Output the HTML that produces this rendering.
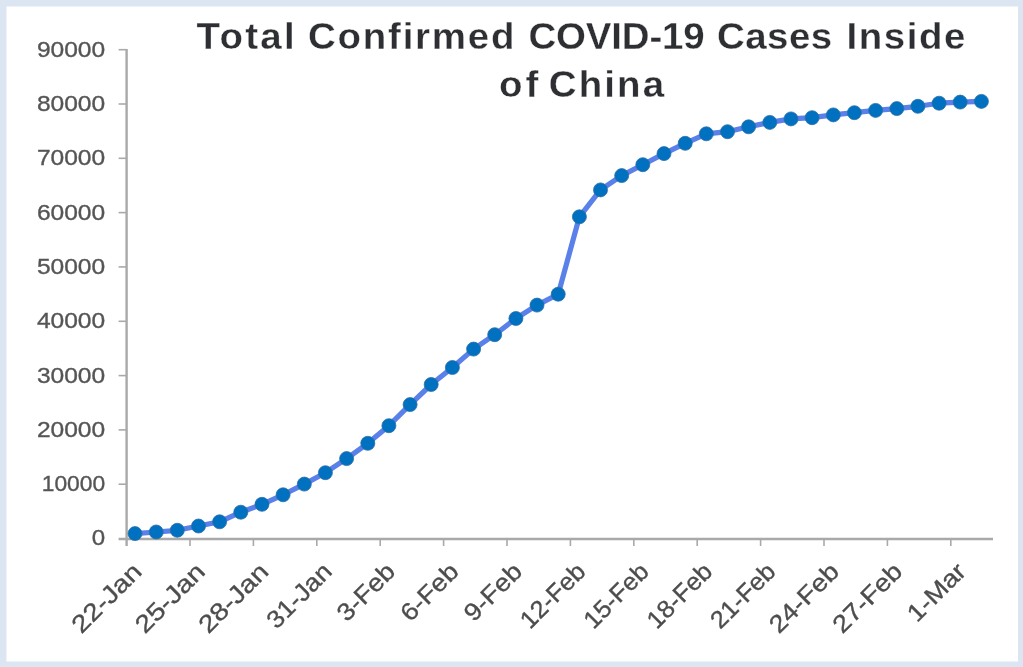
<!DOCTYPE html>
<html lang="en">
<head>
<meta charset="utf-8">
<title>Total Confirmed COVID-19 Cases Inside of China</title>
<style>
html,body{margin:0;padding:0;background:#dce6f2;}
body{width:1023px;height:667px;overflow:hidden;}
svg{display:block;filter:blur(0.7px);}
.t{font-family:"Liberation Sans",sans-serif;font-weight:bold;font-size:37px;fill:#2d2f32;stroke:#fff;stroke-width:0.3px;}
.yl{font-family:"Liberation Sans",sans-serif;font-size:22.5px;fill:#555;stroke:#555;stroke-width:0.35px;}
.xl{font-family:"Liberation Sans",sans-serif;font-size:24.5px;fill:#4d4d4d;stroke:#4d4d4d;stroke-width:0.35px;}
</style>
</head>
<body>
<svg width="1023" height="667" viewBox="0 0 1023 667">
<rect x="0" y="0" width="1023" height="667" fill="#dce6f2"/>
<rect x="6.5" y="6.5" width="1011.5" height="655" fill="#ffffff"/>
<text class="t" transform="translate(196.6,48.9) scale(1.04,1)" textLength="94.3" lengthAdjust="spacing">Total</text>
<text class="t" transform="translate(308.0,48.9) scale(1.04,1)" textLength="198.5" lengthAdjust="spacing">Confirmed</text>
<text class="t" transform="translate(528.5,48.9) scale(1.04,1)" textLength="169.4" lengthAdjust="spacing">COVID-19</text>
<text class="t" transform="translate(717.0,48.9) scale(1.04,1)" textLength="110.8" lengthAdjust="spacing">Cases</text>
<text class="t" transform="translate(846.4,48.9) scale(1.04,1)" textLength="114.5" lengthAdjust="spacing">Inside</text>
<text class="t" transform="translate(499.0,97.2) scale(1.04,1)" textLength="37.7" lengthAdjust="spacing">of</text>
<text class="t" transform="translate(548.8,97.2) scale(1.04,1)" textLength="110.9" lengthAdjust="spacing">China</text>
<g stroke="#a9a9a9" stroke-width="2.4" fill="none">
<line x1="126.6" y1="48.900000000000006" x2="126.6" y2="546.0"/>
<line x1="118.6" y1="539.0" x2="993" y2="539.0"/>
</g>
<g stroke="#a9a9a9" stroke-width="1.6" fill="none">
<line x1="118.6" y1="484.2" x2="126.6" y2="484.2"/>
<line x1="118.6" y1="429.9" x2="126.6" y2="429.9"/>
<line x1="118.6" y1="375.6" x2="126.6" y2="375.6"/>
<line x1="118.6" y1="321.3" x2="126.6" y2="321.3"/>
<line x1="118.6" y1="266.9" x2="126.6" y2="266.9"/>
<line x1="118.6" y1="212.6" x2="126.6" y2="212.6"/>
<line x1="118.6" y1="158.3" x2="126.6" y2="158.3"/>
<line x1="118.6" y1="104.0" x2="126.6" y2="104.0"/>
<line x1="118.6" y1="49.7" x2="126.6" y2="49.7"/>
<line x1="190.0" y1="538.5" x2="190.0" y2="546.0"/>
<line x1="253.4" y1="538.5" x2="253.4" y2="546.0"/>
<line x1="316.8" y1="538.5" x2="316.8" y2="546.0"/>
<line x1="380.2" y1="538.5" x2="380.2" y2="546.0"/>
<line x1="443.6" y1="538.5" x2="443.6" y2="546.0"/>
<line x1="507.0" y1="538.5" x2="507.0" y2="546.0"/>
<line x1="570.4" y1="538.5" x2="570.4" y2="546.0"/>
<line x1="633.8" y1="538.5" x2="633.8" y2="546.0"/>
<line x1="697.2" y1="538.5" x2="697.2" y2="546.0"/>
<line x1="760.6" y1="538.5" x2="760.6" y2="546.0"/>
<line x1="824.0" y1="538.5" x2="824.0" y2="546.0"/>
<line x1="887.4" y1="538.5" x2="887.4" y2="546.0"/>
<line x1="950.8" y1="538.5" x2="950.8" y2="546.0"/>
</g>
<text class="yl" x="105.2" y="545.4" text-anchor="end" textLength="13.4" lengthAdjust="spacingAndGlyphs">0</text>
<text class="yl" x="105.2" y="491.1" text-anchor="end" textLength="63.5" lengthAdjust="spacingAndGlyphs">10000</text>
<text class="yl" x="105.2" y="436.8" text-anchor="end" textLength="68.3" lengthAdjust="spacingAndGlyphs">20000</text>
<text class="yl" x="105.2" y="382.5" text-anchor="end" textLength="68.3" lengthAdjust="spacingAndGlyphs">30000</text>
<text class="yl" x="105.2" y="328.2" text-anchor="end" textLength="68.3" lengthAdjust="spacingAndGlyphs">40000</text>
<text class="yl" x="105.2" y="273.8" text-anchor="end" textLength="68.3" lengthAdjust="spacingAndGlyphs">50000</text>
<text class="yl" x="105.2" y="219.5" text-anchor="end" textLength="68.3" lengthAdjust="spacingAndGlyphs">60000</text>
<text class="yl" x="105.2" y="165.2" text-anchor="end" textLength="68.3" lengthAdjust="spacingAndGlyphs">70000</text>
<text class="yl" x="105.2" y="110.9" text-anchor="end" textLength="68.3" lengthAdjust="spacingAndGlyphs">80000</text>
<text class="yl" x="105.2" y="56.6" text-anchor="end" textLength="68.3" lengthAdjust="spacingAndGlyphs">90000</text>
<text class="xl" transform="translate(143.1,573.0) rotate(-45)" text-anchor="end" textLength="87" lengthAdjust="spacingAndGlyphs">22-Jan</text>
<text class="xl" transform="translate(206.5,573.0) rotate(-45)" text-anchor="end" textLength="87" lengthAdjust="spacingAndGlyphs">25-Jan</text>
<text class="xl" transform="translate(269.9,573.0) rotate(-45)" text-anchor="end" textLength="87" lengthAdjust="spacingAndGlyphs">28-Jan</text>
<text class="xl" transform="translate(333.3,573.0) rotate(-45)" text-anchor="end" textLength="80.5" lengthAdjust="spacingAndGlyphs">31-Jan</text>
<text class="xl" transform="translate(396.7,573.0) rotate(-45)" text-anchor="end" textLength="70.5" lengthAdjust="spacingAndGlyphs">3-Feb</text>
<text class="xl" transform="translate(460.1,573.0) rotate(-45)" text-anchor="end" textLength="70.5" lengthAdjust="spacingAndGlyphs">6-Feb</text>
<text class="xl" transform="translate(523.5,573.0) rotate(-45)" text-anchor="end" textLength="70.5" lengthAdjust="spacingAndGlyphs">9-Feb</text>
<text class="xl" transform="translate(586.9,573.0) rotate(-45)" text-anchor="end" textLength="80.5" lengthAdjust="spacingAndGlyphs">12-Feb</text>
<text class="xl" transform="translate(650.3,573.0) rotate(-45)" text-anchor="end" textLength="80.5" lengthAdjust="spacingAndGlyphs">15-Feb</text>
<text class="xl" transform="translate(713.7,573.0) rotate(-45)" text-anchor="end" textLength="80.5" lengthAdjust="spacingAndGlyphs">18-Feb</text>
<text class="xl" transform="translate(777.1,573.0) rotate(-45)" text-anchor="end" textLength="80.5" lengthAdjust="spacingAndGlyphs">21-Feb</text>
<text class="xl" transform="translate(840.5,573.0) rotate(-45)" text-anchor="end" textLength="87" lengthAdjust="spacingAndGlyphs">24-Feb</text>
<text class="xl" transform="translate(903.9,573.0) rotate(-45)" text-anchor="end" textLength="87" lengthAdjust="spacingAndGlyphs">27-Feb</text>
<text class="xl" transform="translate(967.3,573.0) rotate(-45)" text-anchor="end" textLength="71" lengthAdjust="spacingAndGlyphs">1-Mar</text>
<polyline points="135.0,533.6 156.2,532.0 177.3,530.3 198.5,526.0 219.6,521.8 240.8,512.2 262.0,504.3 283.1,494.8 304.3,484.1 325.4,472.7 346.6,458.6 367.8,443.3 388.9,425.7 410.1,404.6 431.2,384.5 452.4,367.5 473.6,349.1 494.7,334.7 515.9,318.5 537.0,305.1 558.2,294.2 579.4,216.8 600.5,189.9 621.7,175.6 642.8,164.7 664.0,153.6 685.2,143.3 706.3,133.8 727.5,131.7 748.6,126.8 769.8,122.4 791.0,118.9 812.1,117.7 833.3,114.9 854.4,112.7 875.6,110.4 896.8,108.6 917.9,106.3 939.1,103.2 960.2,102.1 981.4,101.4" fill="none" stroke="#5a80ea" stroke-width="5.2" stroke-linejoin="round" stroke-linecap="round"/>
<g fill="#0070c0" stroke="#2d6fa6" stroke-width="0.8">
<circle cx="135.0" cy="533.6" r="7"/>
<circle cx="156.2" cy="532.0" r="7"/>
<circle cx="177.3" cy="530.3" r="7"/>
<circle cx="198.5" cy="526.0" r="7"/>
<circle cx="219.6" cy="521.8" r="7"/>
<circle cx="240.8" cy="512.2" r="7"/>
<circle cx="262.0" cy="504.3" r="7"/>
<circle cx="283.1" cy="494.8" r="7"/>
<circle cx="304.3" cy="484.1" r="7"/>
<circle cx="325.4" cy="472.7" r="7"/>
<circle cx="346.6" cy="458.6" r="7"/>
<circle cx="367.8" cy="443.3" r="7"/>
<circle cx="388.9" cy="425.7" r="7"/>
<circle cx="410.1" cy="404.6" r="7"/>
<circle cx="431.2" cy="384.5" r="7"/>
<circle cx="452.4" cy="367.5" r="7"/>
<circle cx="473.6" cy="349.1" r="7"/>
<circle cx="494.7" cy="334.7" r="7"/>
<circle cx="515.9" cy="318.5" r="7"/>
<circle cx="537.0" cy="305.1" r="7"/>
<circle cx="558.2" cy="294.2" r="7"/>
<circle cx="579.4" cy="216.8" r="7"/>
<circle cx="600.5" cy="189.9" r="7"/>
<circle cx="621.7" cy="175.6" r="7"/>
<circle cx="642.8" cy="164.7" r="7"/>
<circle cx="664.0" cy="153.6" r="7"/>
<circle cx="685.2" cy="143.3" r="7"/>
<circle cx="706.3" cy="133.8" r="7"/>
<circle cx="727.5" cy="131.7" r="7"/>
<circle cx="748.6" cy="126.8" r="7"/>
<circle cx="769.8" cy="122.4" r="7"/>
<circle cx="791.0" cy="118.9" r="7"/>
<circle cx="812.1" cy="117.7" r="7"/>
<circle cx="833.3" cy="114.9" r="7"/>
<circle cx="854.4" cy="112.7" r="7"/>
<circle cx="875.6" cy="110.4" r="7"/>
<circle cx="896.8" cy="108.6" r="7"/>
<circle cx="917.9" cy="106.3" r="7"/>
<circle cx="939.1" cy="103.2" r="7"/>
<circle cx="960.2" cy="102.1" r="7"/>
<circle cx="981.4" cy="101.4" r="7"/>
</g>
</svg>
</body>
</html>
